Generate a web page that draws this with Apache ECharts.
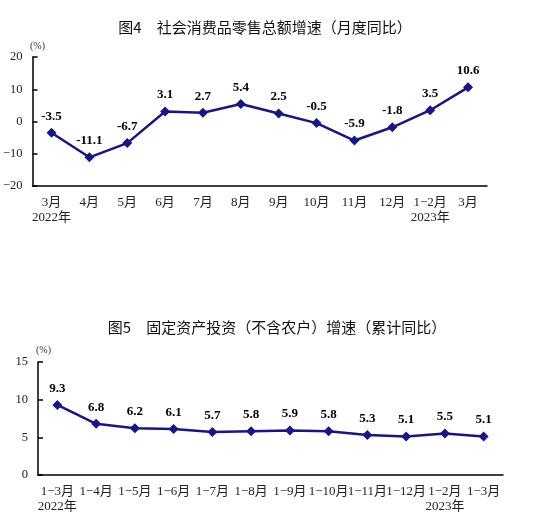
<!DOCTYPE html>
<html><head><meta charset="utf-8">
<script src="https://cdn.jsdelivr.net/npm/echarts@6/dist/echarts.min.js"></script>
<style>html,body{margin:0;padding:0;background:#fff}#c{width:544px;height:529px}</style>
</head><body><div id="c"></div>
<script>
const cats1 = ['3月\n2022年','4月','5月','6月','7月','8月','9月','10月','11月','12月','1−2月\n2023年','3月'];
const vals1 = [-3.5,-11.1,-6.7,3.1,2.7,5.4,2.5,-0.5,-5.9,-1.8,3.5,10.6];
const cats2 = ['1−3月\n2022年','1−4月','1−5月','1−6月','1−7月','1−8月','1−9月','1−10月','1−11月','1−12月','1−2月\n2023年','1−3月'];
const vals2 = [9.3,6.8,6.2,6.1,5.7,5.8,5.9,5.8,5.3,5.1,5.5,5.1];
const title1 = '图4　社会消费品零售总额增速（月度同比）';
const title2 = '图5　固定资产投资（不含农户）增速（累计同比）';

const serif = '"Liberation Serif","Noto Sans CJK SC",serif';
const navy = '#16168a';
const chart = echarts.init(document.getElementById('c'));
function xAxis(i, data){
  return {type:'category', gridIndex:i, data:data, boundaryGap:true,
    axisLine:{onZero:false,lineStyle:{color:'#000',width:1.5}},
    axisTick:{inside:true,length:5,lineStyle:{color:'#000',width:1.5},alignWithLabel:false},
    axisLabel:{color:'#222',fontFamily:serif,fontSize:13,lineHeight:15,margin:9,interval:0}};
}
function yAxis(i,min,max,interval){
  return {type:'value', gridIndex:i, min:min,max:max,interval:interval,
    axisLine:{show:true,lineStyle:{color:'#000',width:1.5}},
    axisTick:{show:true,inside:true,length:5,lineStyle:{color:'#000',width:1.5}},
    splitLine:{show:false},
    axisLabel:{color:'#222',fontFamily:serif,fontSize:12.5,margin:10,
      formatter:v=>String(v).replace('-','−')}};
}
function series(i,vals){
  return {type:'line',xAxisIndex:i,yAxisIndex:i,data:vals,symbol:'diamond',symbolSize:10,
    lineStyle:{color:navy,width:2.5},itemStyle:{color:navy},
    label:{show:true,position:'top',distance:5,color:'#000',fontFamily:serif,fontWeight:'bold',fontSize:13,
      formatter:p=>p.value.toFixed(1)}};
}
chart.setOption({
  animation:false,
  title:[
    {text:title1,left:260,top:15,textAlign:'center',textStyle:{fontFamily:'"Noto Sans CJK SC",sans-serif',fontSize:15,fontWeight:'normal',color:'#111'}},
    {text:title2,left:272,top:315,textAlign:'center',textStyle:{fontFamily:'"Noto Sans CJK SC",sans-serif',fontSize:15,fontWeight:'normal',color:'#111'}},
    {text:'(%)',left:25,top:36,textStyle:{fontFamily:serif,fontSize:10,fontWeight:'normal',color:'#333'}},
    {text:'(%)',left:31,top:340,textStyle:{fontFamily:serif,fontSize:10,fontWeight:'normal',color:'#333'}}
  ],
  grid:[
    {left:32,right:57,top:57,bottom:343},
    {left:38,right:41,top:362,bottom:54}
  ],
  xAxis:[xAxis(0,cats1),xAxis(1,cats2)],
  yAxis:[yAxis(0,-20,20,10),yAxis(1,0,15,5)],
  series:[series(0,vals1),series(1,vals2)]
});
</script></body></html>
